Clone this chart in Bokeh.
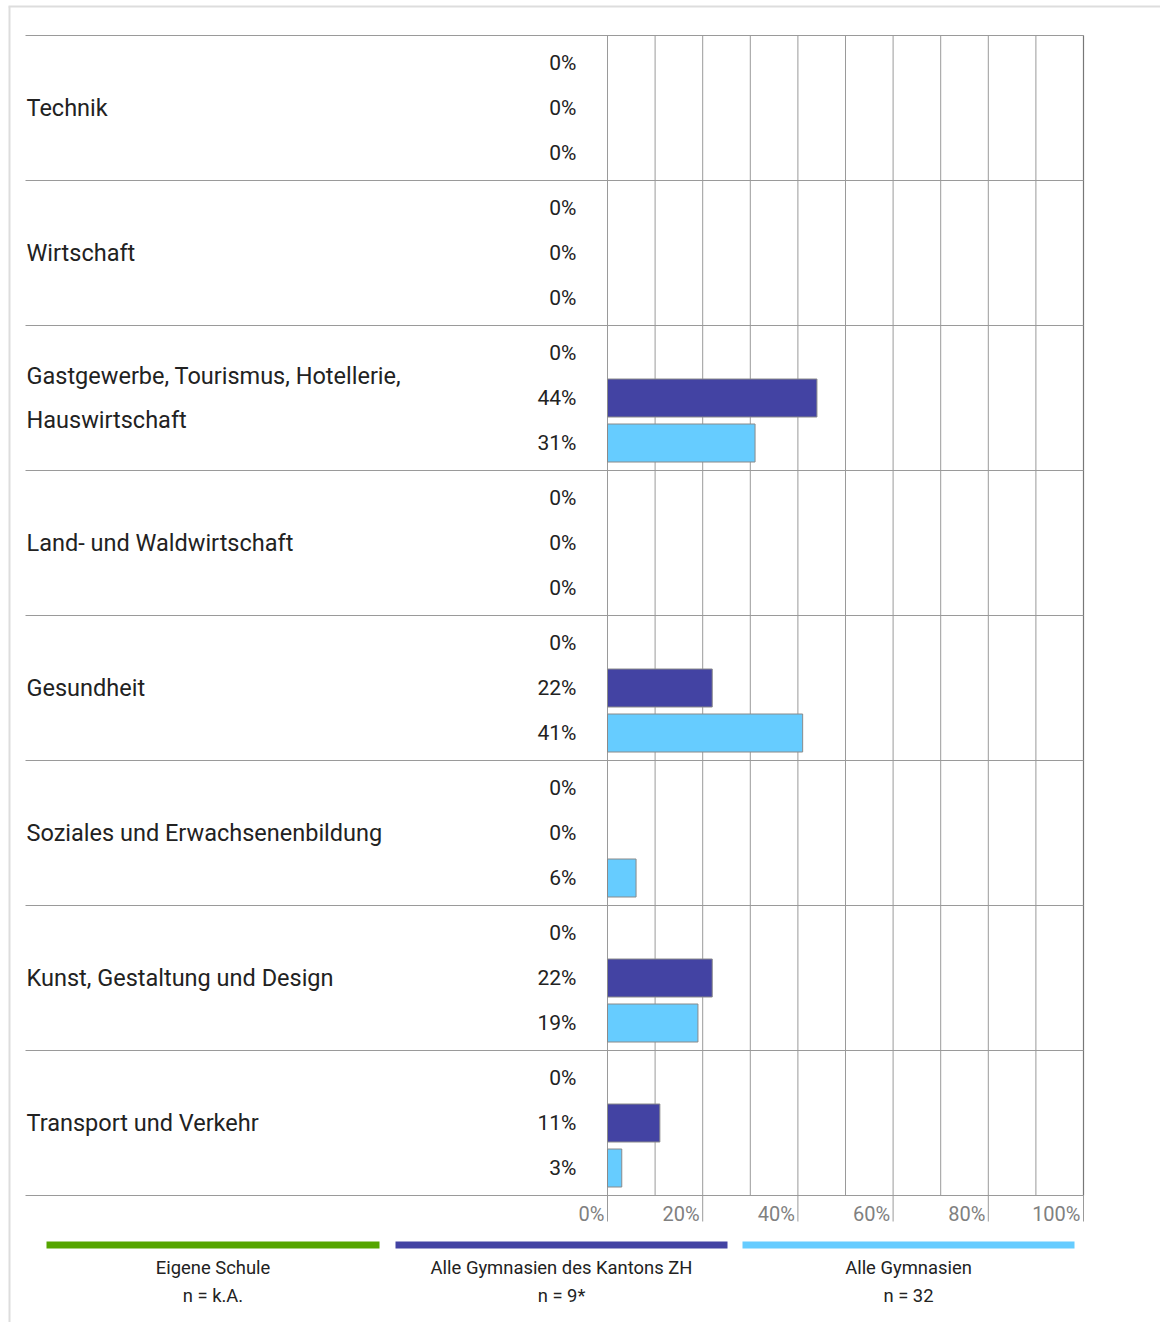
from bokeh.plotting import figure
from bokeh.models import Range1d
from bokeh.core.properties import value
from bokeh.embed import file_html
from bokeh.resources import INLINE

# ---------------- data ----------------
categories = [
    "Technik",
    "Wirtschaft",
    "Gastgewerbe, Tourismus, Hotellerie,\nHauswirtschaft",
    "Land- und Waldwirtschaft",
    "Gesundheit",
    "Soziales und Erwachsenenbildung",
    "Kunst, Gestaltung und Design",
    "Transport und Verkehr",
]
eigene_schule = [0, 0, 0, 0, 0, 0, 0, 0]
kanton_zh = [0, 0, 44, 0, 22, 0, 22, 11]
alle_gymnasien = [0, 0, 31, 0, 41, 6, 19, 3]

series_names = ["Eigene Schule", "Alle Gymnasien des Kantons ZH", "Alle Gymnasien"]
series_n = ["n = k.A.", "n = 9*", "n = 32"]
series_colors = ["#55a500", "#4343a3", "#66ccff"]

grid_values = list(range(0, 101, 10))
tick_values = list(range(0, 101, 20))
tick_labels = [f"{t}%" for t in tick_values]

# ---------------- geometry (page pixels -> data) ----------------
W, H = 1160, 1322
ORIGIN = 0
X0_PX, PX_PER_PCT = 607, 4.76          # 0 % line and scale
CAT_PX, CAT0_CENTER = 145, 107.5        # category band height, first band centre


def xd(px):
    return (px - X0_PX) / PX_PER_PCT


def yd(py):
    return (py - CAT0_CENTER) / CAT_PX


SUB = 45 / CAT_PX        # sub-row offset
BAR_H = 38 / CAT_PX      # bar thickness

p = figure(
    width=W, height=H,
    x_range=Range1d(xd(ORIGIN), xd(ORIGIN + W)),
    y_range=Range1d(yd(ORIGIN + H), yd(ORIGIN)),
    output_backend="svg", toolbar_location=None,
    x_axis_location=None, y_axis_location=None,
    min_border=0, outline_line_color=None,
)
p.grid.visible = False
p.background_fill_color = "white"
p.border_fill_color = "white"

FONT = value("Roboto")
TXT = "#222222"
GRID = "#9a9a9a"

# page frame lines (light gray)
p.segment(x0=[xd(8)], y0=[yd(6)], x1=[xd(ORIGIN + W)], y1=[yd(6)], line_color="#dddddd", line_width=2)
p.segment(x0=[xd(9)], y0=[yd(6)], x1=[xd(9)], y1=[yd(ORIGIN + H)], line_color="#dddddd", line_width=2)

n = len(categories)
band_top = -0.5
band_bottom = n - 0.5

# vertical grid lines
p.segment(x0=grid_values, y0=[band_top] * len(grid_values), x1=grid_values,
          y1=[band_bottom] * len(grid_values), line_color=GRID, line_width=1)
# right border a bit darker
p.segment(x0=[100], y0=[band_top], x1=[100], y1=[band_bottom], line_color="#777777", line_width=1.2)

# horizontal separators between categories
seps = [i - 0.5 for i in range(n + 1)]
p.segment(x0=[xd(25)] * len(seps), y0=seps, x1=[100] * len(seps), y1=seps,
          line_color=GRID, line_width=1)

# axis tick marks below the chart
p.segment(x0=tick_values, y0=[band_bottom] * len(tick_values), x1=tick_values,
          y1=[band_bottom + 26 / CAT_PX] * len(tick_values), line_color=GRID, line_width=1)
p.text(x=tick_values, y=[band_bottom + 18 / CAT_PX] * len(tick_values), text=tick_labels,
       text_align="right", text_baseline="middle", x_offset=-3,
       text_font=FONT, text_font_size="20px", text_color="#808080")

# bars
series_vals = [eigene_schule, kanton_zh, alle_gymnasien]
offsets = [-SUB, 0, SUB]
for vals, off, col in zip(series_vals, offsets, series_colors):
    ys = [i + off for i, v in enumerate(vals) if v > 0]
    rs = [v for v in vals if v > 0]
    if rs:
        p.hbar(y=ys, left=0, right=rs, height=BAR_H, fill_color=col,
               line_color="#8a8a8a", line_width=1)

# value labels
lab_y, lab_t = [], []
for vals, off in zip(series_vals, offsets):
    for i, v in enumerate(vals):
        lab_y.append(i + off)
        lab_t.append(f"{v}%")
p.text(x=[xd(576)] * len(lab_y), y=lab_y, text=lab_t, text_align="right",
       text_baseline="middle", text_font=FONT, text_font_size="21px", text_color=TXT)

# category labels
p.text(x=[xd(26)] * n, y=list(range(n)), text=categories, text_align="left",
       text_baseline="middle", text_font=FONT, text_font_size="23.5px", text_color=TXT,
       text_line_height=1.59)

# legend
leg_x = [(46, 379), (395, 727), (742, 1074)]
for (a, b), name, nn, col in zip(leg_x, series_names, series_n, series_colors):
    p.quad(left=[xd(a)], right=[xd(b)], top=[yd(1241)], bottom=[yd(1248)],
           fill_color=col, line_color=None)
    cx = xd((a + b) / 2)
    p.text(x=[cx], y=[yd(1267)], text=[name], text_align="center", text_baseline="middle",
           text_font=FONT, text_font_size="18.4px", text_color=TXT)
    p.text(x=[cx], y=[yd(1295)], text=[nn], text_align="center", text_baseline="middle",
           text_font=FONT, text_font_size="18.4px", text_color=TXT)

open("out.html", "w").write(file_html(p, INLINE))
